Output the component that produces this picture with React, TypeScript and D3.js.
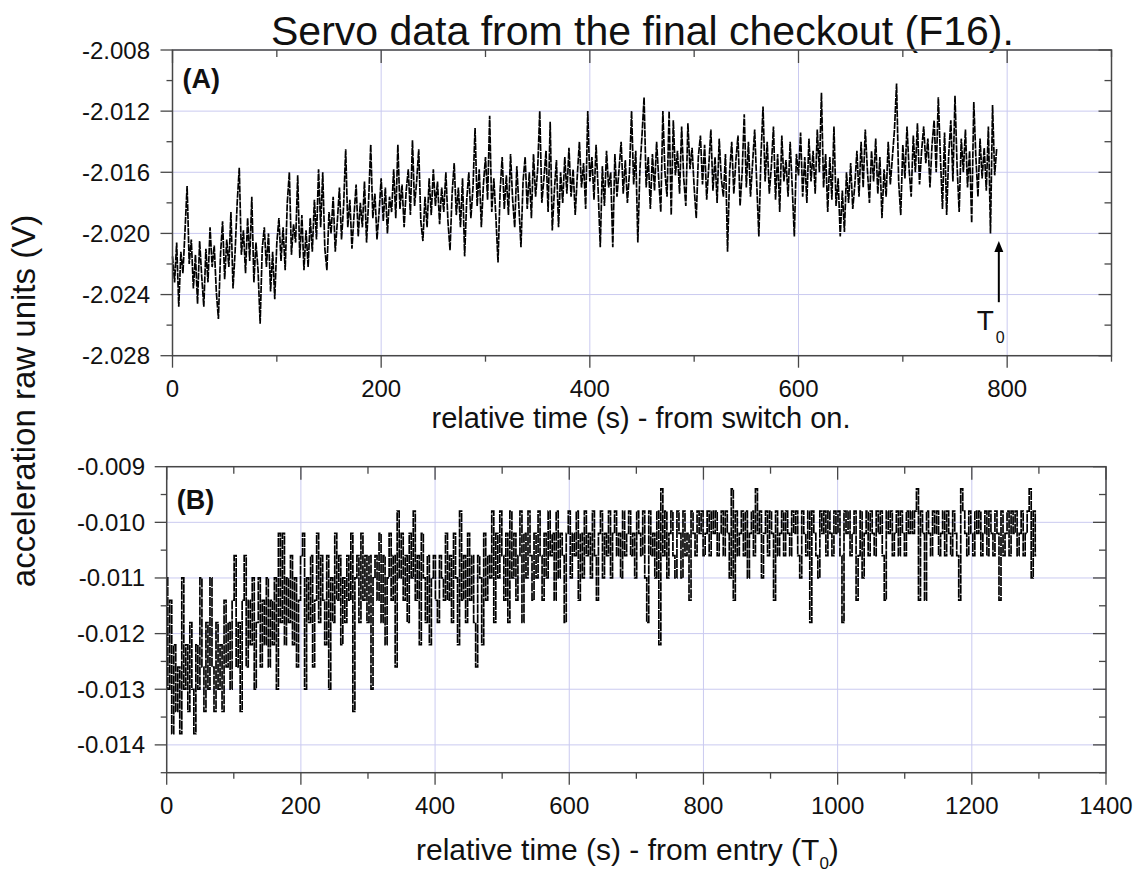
import React from 'react';
import * as d3 from 'd3';

const titleText = 'Servo data from the final checkout (F16).';
const yAxisTitle = 'acceleration raw units (V)';
const xTitleA = 'relative time (s) - from switch on.';
const xTitleB = 'relative time (s) - from entry (T';
const panelTagA = '(A)';
const panelTagB = '(B)';

// Panel A: sample spacing (s) and sampled values (V)
const aStep = 2;
const aValues = [
  -2.0215,-2.0232,-2.0206,-2.0248,-2.0212,-2.0226,-2.0198,-2.0169,-2.0220,-2.0204,
  -2.0236,-2.0214,-2.0246,-2.0205,-2.0228,-2.0248,-2.0210,-2.0232,-2.0196,-2.0222,
  -2.0208,-2.0238,-2.0256,-2.0214,-2.0192,-2.0230,-2.0204,-2.0222,-2.0186,-2.0236,
  -2.0212,-2.0180,-2.0157,-2.0214,-2.0198,-2.0226,-2.0190,-2.0218,-2.0176,-2.0232,
  -2.0206,-2.0224,-2.0259,-2.0210,-2.0196,-2.0222,-2.0200,-2.0238,-2.0212,-2.0243,
  -2.0206,-2.0190,-2.0218,-2.0196,-2.0224,-2.0180,-2.0160,-2.0214,-2.0194,-2.0206,
  -2.0162,-2.0216,-2.0188,-2.0224,-2.0198,-2.0222,-2.0190,-2.0212,-2.0178,-2.0204,
  -2.0158,-2.0196,-2.0160,-2.0210,-2.0224,-2.0186,-2.0200,-2.0176,-2.0212,-2.0192,
  -2.0170,-2.0204,-2.0182,-2.0145,-2.0196,-2.0178,-2.0210,-2.0188,-2.0168,-2.0202,
  -2.0180,-2.0196,-2.0166,-2.0206,-2.0178,-2.0142,-2.0190,-2.0174,-2.0204,-2.0186,
  -2.0164,-2.0192,-2.0170,-2.0200,-2.0176,-2.0186,-2.0158,-2.0190,-2.0142,-2.0184,
  -2.0168,-2.0196,-2.0172,-2.0158,-2.0188,-2.0139,-2.0182,-2.0166,-2.0145,-2.0192,
  -2.0205,-2.0176,-2.0196,-2.0164,-2.0188,-2.0158,-2.0182,-2.0166,-2.0194,-2.0170,
  -2.0186,-2.0160,-2.0192,-2.0211,-2.0174,-2.0154,-2.0188,-2.0170,-2.0196,-2.0164,
  -2.0215,-2.0178,-2.0160,-2.0190,-2.0170,-2.0131,-2.0182,-2.0158,-2.0196,-2.0168,
  -2.0150,-2.0178,-2.0123,-2.0186,-2.0164,-2.0190,-2.0219,-2.0172,-2.0150,-2.0184,
  -2.0162,-2.0188,-2.0148,-2.0178,-2.0196,-2.0156,-2.0182,-2.0209,-2.0166,-2.0150,
  -2.0184,-2.0160,-2.0190,-2.0148,-2.0176,-2.0158,-2.0120,-2.0180,-2.0164,-2.0146,
  -2.0186,-2.0127,-2.0198,-2.0172,-2.0152,-2.0196,-2.0160,-2.0180,-2.0150,-2.0174,
  -2.0144,-2.0176,-2.0158,-2.0188,-2.0162,-2.0140,-2.0170,-2.0154,-2.0184,-2.0120,
  -2.0166,-2.0150,-2.0178,-2.0142,-2.0172,-2.0209,-2.0156,-2.0182,-2.0146,-2.0170,
  -2.0160,-2.0209,-2.0148,-2.0176,-2.0158,-2.0140,-2.0174,-2.0152,-2.0180,-2.0160,
  -2.0120,-2.0168,-2.0146,-2.0206,-2.0158,-2.0136,-2.0111,-2.0170,-2.0150,-2.0184,
  -2.0148,-2.0172,-2.0140,-2.0164,-2.0186,-2.0120,-2.0160,-2.0176,-2.0120,-2.0188,
  -2.0126,-2.0162,-2.0146,-2.0174,-2.0130,-2.0164,-2.0182,-2.0128,-2.0158,-2.0144,
  -2.0170,-2.0190,-2.0150,-2.0136,-2.0168,-2.0142,-2.0178,-2.0156,-2.0132,-2.0172,
  -2.0150,-2.0180,-2.0138,-2.0164,-2.0176,-2.0148,-2.0212,-2.0160,-2.0140,-2.0174,
  -2.0152,-2.0136,-2.0182,-2.0160,-2.0122,-2.0170,-2.0140,-2.0176,-2.0154,-2.0132,
  -2.0168,-2.0202,-2.0150,-2.0117,-2.0166,-2.0140,-2.0174,-2.0156,-2.0130,-2.0178,
  -2.0148,-2.0186,-2.0136,-2.0166,-2.0152,-2.0176,-2.0140,-2.0170,-2.0202,-2.0148,
  -2.0162,-2.0134,-2.0176,-2.0150,-2.0180,-2.0138,-2.0166,-2.0146,-2.0174,-2.0132,
  -2.0160,-2.0108,-2.0170,-2.0148,-2.0186,-2.0150,-2.0178,-2.0130,-2.0182,-2.0164,
  -2.0202,-2.0172,-2.0199,-2.0160,-2.0180,-2.0154,-2.0184,-2.0168,-2.0146,-2.0176,
  -2.0140,-2.0170,-2.0132,-2.0158,-2.0180,-2.0146,-2.0166,-2.0138,-2.0174,-2.0150,
  -2.0190,-2.0158,-2.0176,-2.0140,-2.0168,-2.0150,-2.0132,-2.0102,-2.0166,-2.0188,
  -2.0142,-2.0164,-2.0130,-2.0158,-2.0176,-2.0136,-2.0160,-2.0128,-2.0168,-2.0146,
  -2.0130,-2.0154,-2.0138,-2.0170,-2.0142,-2.0126,-2.0160,-2.0111,-2.0150,-2.0184,
  -2.0134,-2.0188,-2.0148,-2.0126,-2.0166,-2.0110,-2.0156,-2.0186,-2.0138,-2.0160,
  -2.0132,-2.0170,-2.0146,-2.0193,-2.0114,-2.0150,-2.0176,-2.0138,-2.0164,-2.0144,
  -2.0172,-2.0130,-2.0200,-2.0116,-2.0162,-2.0144,
];

// Panel B: sample spacing (s) and quantised sampled values (V)
const bStep = 3;
const bValues = [
  -0.0110,-0.0130,-0.0114,-0.0138,-0.0122,-0.0134,-0.0126,-0.0138,-0.0110,-0.0130,
  -0.0122,-0.0134,-0.0118,-0.0130,-0.0138,-0.0122,-0.0130,-0.0110,-0.0126,-0.0134,
  -0.0118,-0.0130,-0.0110,-0.0126,-0.0134,-0.0118,-0.0130,-0.0122,-0.0134,-0.0114,
  -0.0126,-0.0118,-0.0130,-0.0114,-0.0106,-0.0126,-0.0118,-0.0134,-0.0114,-0.0106,
  -0.0126,-0.0114,-0.0122,-0.0110,-0.0130,-0.0118,-0.0110,-0.0126,-0.0114,-0.0122,
  -0.0110,-0.0126,-0.0114,-0.0122,-0.0110,-0.0130,-0.0102,-0.0118,-0.0102,-0.0122,
  -0.0110,-0.0118,-0.0106,-0.0122,-0.0110,-0.0126,-0.0114,-0.0106,-0.0102,-0.0130,
  -0.0110,-0.0118,-0.0106,-0.0126,-0.0114,-0.0102,-0.0118,-0.0106,-0.0114,-0.0122,
  -0.0106,-0.0130,-0.0110,-0.0118,-0.0102,-0.0114,-0.0106,-0.0122,-0.0110,-0.0118,
  -0.0106,-0.0114,-0.0102,-0.0134,-0.0110,-0.0106,-0.0118,-0.0102,-0.0114,-0.0106,
  -0.0118,-0.0106,-0.0130,-0.0110,-0.0106,-0.0114,-0.0102,-0.0118,-0.0106,-0.0122,
  -0.0110,-0.0102,-0.0114,-0.0106,-0.0126,-0.0098,-0.0110,-0.0102,-0.0114,-0.0106,
  -0.0118,-0.0102,-0.0110,-0.0098,-0.0114,-0.0106,-0.0122,-0.0102,-0.0110,-0.0118,
  -0.0106,-0.0122,-0.0110,-0.0106,-0.0114,-0.0118,-0.0106,-0.0110,-0.0114,-0.0102,
  -0.0114,-0.0106,-0.0118,-0.0102,-0.0110,-0.0122,-0.0098,-0.0114,-0.0106,-0.0118,
  -0.0102,-0.0114,-0.0106,-0.0118,-0.0126,-0.0106,-0.0110,-0.0122,-0.0102,-0.0114,
  -0.0106,-0.0110,-0.0098,-0.0118,-0.0102,-0.0110,-0.0098,-0.0106,-0.0114,-0.0102,
  -0.0118,-0.0098,-0.0110,-0.0102,-0.0114,-0.0106,-0.0098,-0.0118,-0.0102,-0.0110,
  -0.0098,-0.0106,-0.0114,-0.0102,-0.0110,-0.0098,-0.0106,-0.0114,-0.0102,-0.0110,
  -0.0098,-0.0106,-0.0102,-0.0114,-0.0098,-0.0110,-0.0102,-0.0106,-0.0118,-0.0102,
  -0.0098,-0.0110,-0.0102,-0.0106,-0.0098,-0.0114,-0.0102,-0.0110,-0.0098,-0.0106,
  -0.0102,-0.0110,-0.0098,-0.0106,-0.0114,-0.0102,-0.0098,-0.0110,-0.0102,-0.0106,
  -0.0098,-0.0110,-0.0102,-0.0098,-0.0106,-0.0102,-0.0110,-0.0098,-0.0106,-0.0102,
  -0.0098,-0.0106,-0.0102,-0.0110,-0.0098,-0.0102,-0.0106,-0.0098,-0.0110,-0.0118,
  -0.0098,-0.0106,-0.0102,-0.0110,-0.0098,-0.0122,-0.0094,-0.0106,-0.0098,-0.0110,
  -0.0102,-0.0098,-0.0106,-0.0110,-0.0098,-0.0102,-0.0110,-0.0098,-0.0106,-0.0102,
  -0.0114,-0.0098,-0.0102,-0.0106,-0.0098,-0.0102,-0.0098,-0.0106,-0.0102,-0.0098,
  -0.0106,-0.0098,-0.0102,-0.0098,-0.0106,-0.0102,-0.0098,-0.0106,-0.0098,-0.0102,
  -0.0110,-0.0094,-0.0114,-0.0098,-0.0106,-0.0102,-0.0098,-0.0106,-0.0098,-0.0110,
  -0.0102,-0.0098,-0.0106,-0.0094,-0.0102,-0.0098,-0.0110,-0.0102,-0.0098,-0.0106,
  -0.0098,-0.0102,-0.0114,-0.0098,-0.0106,-0.0102,-0.0098,-0.0106,-0.0098,-0.0102,
  -0.0106,-0.0098,-0.0102,-0.0098,-0.0106,-0.0110,-0.0098,-0.0102,-0.0106,-0.0098,
  -0.0118,-0.0098,-0.0102,-0.0106,-0.0110,-0.0098,-0.0102,-0.0098,-0.0106,-0.0098,
  -0.0102,-0.0106,-0.0098,-0.0102,-0.0098,-0.0106,-0.0118,-0.0098,-0.0102,-0.0098,
  -0.0106,-0.0102,-0.0098,-0.0114,-0.0106,-0.0098,-0.0110,-0.0102,-0.0098,-0.0106,
  -0.0098,-0.0102,-0.0106,-0.0098,-0.0102,-0.0098,-0.0106,-0.0114,-0.0098,-0.0102,
  -0.0098,-0.0106,-0.0102,-0.0098,-0.0106,-0.0098,-0.0102,-0.0106,-0.0098,-0.0102,
  -0.0098,-0.0102,-0.0098,-0.0094,-0.0114,-0.0098,-0.0102,-0.0114,-0.0098,-0.0102,
  -0.0106,-0.0098,-0.0102,-0.0098,-0.0106,-0.0102,-0.0098,-0.0106,-0.0098,-0.0102,
  -0.0106,-0.0098,-0.0102,-0.0106,-0.0114,-0.0094,-0.0098,-0.0102,-0.0106,-0.0098,
  -0.0102,-0.0106,-0.0098,-0.0102,-0.0098,-0.0106,-0.0102,-0.0098,-0.0106,-0.0098,
  -0.0102,-0.0106,-0.0098,-0.0102,-0.0114,-0.0098,-0.0106,-0.0102,-0.0098,-0.0106,
  -0.0098,-0.0102,-0.0098,-0.0106,-0.0102,-0.0098,-0.0106,-0.0102,-0.0098,-0.0094,
  -0.0110,-0.0098,-0.0106,
];

// Axis ticks
const aXMajor = [0, 200, 400, 600, 800];
const aXMinor = [100, 300, 500, 700, 900];
const aYMajor = [-2.008, -2.012, -2.016, -2.020, -2.024, -2.028];
const aYMinor = [-2.010, -2.014, -2.018, -2.022, -2.026];
const bXMajor = [0, 200, 400, 600, 800, 1000, 1200, 1400];
const bXMinor = [100, 300, 500, 700, 900, 1100, 1300];
const bYMajor = [-0.009, -0.010, -0.011, -0.012, -0.013, -0.014];
const bYMinor = [-0.0095, -0.0105, -0.0115, -0.0125, -0.0135, -0.0145];

// T0 annotation (panel A coordinates)
const t0Time = 792;
const t0ArrowFrom = -2.0245;
const t0ArrowTo = -2.0205;

const FONT = '"Liberation Sans", Arial, Helvetica, sans-serif';
const GRID = '#cacaf0';
const FRAME = '#474747';

type PanelProps = {
  left: number; right: number; top: number; bottom: number;
  xDomain: [number, number]; yDomain: [number, number];
  xMajor: number[]; xMinor: number[]; yMajor: number[]; yMinor: number[];
  yDigits: number; values: number[]; step: number; stepCurve: boolean;
  strokeW: number; dash: string;
  tag: string; tagBaseline: number; yLabelRight: number; xLabelBaseline: number;
  children?: (x: d3.ScaleLinear<number, number>, y: d3.ScaleLinear<number, number>) => React.ReactNode;
};

function Panel(p: PanelProps) {
  const x = d3.scaleLinear().domain(p.xDomain).range([p.left, p.right]);
  const y = d3.scaleLinear().domain(p.yDomain).range([p.bottom, p.top]);
  const line = d3
    .line<number>()
    .x((_, i) => x(i * p.step))
    .y((d) => y(d))
    .curve(p.stepCurve ? d3.curveStep : d3.curveLinear);
  const MJ = 12, MN = 6, IMJ = 13, IMN = 7;
  return (
    <g>
      {p.xMajor.map((v) => (
        <line key={'gx' + v} x1={x(v)} x2={x(v)} y1={p.top} y2={p.bottom} stroke={GRID} strokeWidth={1} />
      ))}
      {p.yMajor.map((v) => (
        <line key={'gy' + v} x1={p.left} x2={p.right} y1={y(v)} y2={y(v)} stroke={GRID} strokeWidth={1} />
      ))}
      <path
        d={line(p.values) || ''}
        fill="none"
        stroke="#000"
        strokeWidth={p.strokeW}
        strokeDasharray={p.dash}
      />
      <rect x={p.left} y={p.top} width={p.right - p.left} height={p.bottom - p.top} fill="none" stroke={FRAME} strokeWidth={1.5} />
      {p.xMajor.map((v) => (
        <g key={'tx' + v}>
          <line x1={x(v)} x2={x(v)} y1={p.bottom} y2={p.bottom + MJ} stroke={FRAME} strokeWidth={1.3} />
          <line x1={x(v)} x2={x(v)} y1={p.top} y2={p.top + IMJ} stroke={FRAME} strokeWidth={1.3} />
          <text x={x(v)} y={p.xLabelBaseline} textAnchor="middle" fontSize={24} fontFamily={FONT} fill="#111">{v}</text>
        </g>
      ))}
      {p.xMinor.map((v) => (
        <g key={'tmx' + v}>
          <line x1={x(v)} x2={x(v)} y1={p.bottom} y2={p.bottom + MN} stroke={FRAME} strokeWidth={1.3} />
          <line x1={x(v)} x2={x(v)} y1={p.top} y2={p.top + IMN} stroke={FRAME} strokeWidth={1.3} />
        </g>
      ))}
      {p.yMajor.map((v) => (
        <g key={'ty' + v}>
          <line x1={p.left - MJ} x2={p.left} y1={y(v)} y2={y(v)} stroke={FRAME} strokeWidth={1.3} />
          <line x1={p.right - IMJ} x2={p.right} y1={y(v)} y2={y(v)} stroke={FRAME} strokeWidth={1.3} />
          <text x={p.yLabelRight} y={y(v) + 8.5} textAnchor="end" fontSize={24} fontFamily={FONT} fill="#111">{v.toFixed(p.yDigits)}</text>
        </g>
      ))}
      {p.yMinor.map((v) => (
        <g key={'tmy' + v}>
          <line x1={p.left - MN} x2={p.left} y1={y(v)} y2={y(v)} stroke={FRAME} strokeWidth={1.3} />
          <line x1={p.right - IMN} x2={p.right} y1={y(v)} y2={y(v)} stroke={FRAME} strokeWidth={1.3} />
        </g>
      ))}
      <text x={p.left + 10} y={p.tagBaseline} fontSize={27} fontWeight="bold" fontFamily={FONT} fill="#111">{p.tag}</text>
      {p.children ? p.children(x, y) : null}
    </g>
  );
}

export default function App() {
  return (
    <svg width={1137} height={873} style={{ display: 'block', position: 'absolute', left: 0, top: 0, background: '#fff' }}>
      <rect x={0} y={0} width={1137} height={873} fill="#fff" />
      <text x={271} y={45} fontSize={41} fontFamily={FONT} fill="#111">{titleText}</text>
      <text transform="translate(35,401) rotate(-90)" textAnchor="middle" fontSize={33} fontFamily={FONT} fill="#111">{yAxisTitle}</text>

      <Panel
        left={172.5} right={1111.5} top={50} bottom={355.7}
        xDomain={[0, 900]} yDomain={[-2.028, -2.008]}
        xMajor={aXMajor} xMinor={aXMinor} yMajor={aYMajor} yMinor={aYMinor}
        yDigits={3} values={aValues} step={aStep} stepCurve={false}
        strokeW={1.7} dash="7 1"
        tag={panelTagA} tagBaseline={88} yLabelRight={150} xLabelBaseline={397}
      >
        {(x, y) => (
          <g>
            <line x1={x(t0Time)} x2={x(t0Time)} y1={y(t0ArrowFrom)} y2={y(t0ArrowTo) + 9} stroke="#000" strokeWidth={2} />
            <path
              d={`M${x(t0Time)},${y(t0ArrowTo)} L${x(t0Time) - 4.5},${y(t0ArrowTo) + 11} L${x(t0Time) + 4.5},${y(t0ArrowTo) + 11} Z`}
              fill="#000"
            />
            <text x={x(t0Time) - 22} y={y(t0ArrowFrom) + 28} fontSize={28} fontFamily={FONT} fill="#111">T</text>
            <text x={x(t0Time) - 3} y={y(t0ArrowFrom) + 41} fontSize={16} fontFamily={FONT} fill="#111">0</text>
          </g>
        )}
      </Panel>
      <text x={641} y={428} textAnchor="middle" fontSize={29} fontFamily={FONT} fill="#111">{xTitleA}</text>

      <Panel
        left={166.7} right={1106} top={466.7} bottom={772.7}
        xDomain={[0, 1400]} yDomain={[-0.0145, -0.009]}
        xMajor={bXMajor} xMinor={bXMinor} yMajor={bYMajor} yMinor={bYMinor}
        yDigits={3} values={bValues} step={bStep} stepCurve={true}
        strokeW={1.7} dash="9 1"
        tag={panelTagB} tagBaseline={509} yLabelRight={145} xLabelBaseline={814}
      />
      <text x={416} y={860} fontSize={30} fontFamily={FONT} fill="#111">
        {xTitleB}
        <tspan fontSize={17} dy={9}>0</tspan>
        <tspan dy={-9}>)</tspan>
      </text>
    </svg>
  );
}
